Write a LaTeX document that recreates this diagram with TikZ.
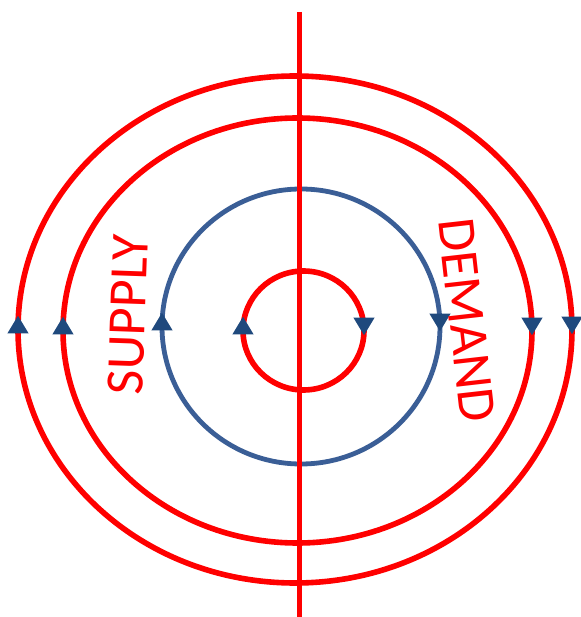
\documentclass[tikz,border=0pt]{standalone}
\usepackage{fontspec}
\setmainfont{Carlito}
\definecolor{LoopRed}{HTML}{FF0000}
\definecolor{LoopBlue}{HTML}{3A5E96}
\definecolor{TipNavy}{HTML}{1F497D}
\usetikzlibrary{arrows.meta, decorations.markings}

\begin{document}
\begin{tikzpicture}[
      x=0.5pt, y=0.5pt,
      flowtip/.style={decoration={markings,
        mark=at position 0.25 with {\arrow[xshift=2.5pt]{Triangle[width=10pt, length=9pt, color=TipNavy]}},
        mark=at position 0.75 with {\arrow[xshift=7pt]{Triangle[width=10pt, length=9pt, color=TipNavy]}}},
        postaction={decorate}},
      redloop/.style={draw=LoopRed, line width=2.8pt, flowtip},
      blueloop/.style={draw=LoopBlue, line width=2.4pt, flowtip},
      axisline/.style={draw=LoopRed, line width=2.8pt},
      tag/.style={text=LoopRed, font=\fontsize{27}{32}\selectfont, inner sep=0pt}
    ]
      \useasboundingbox (0,0) rectangle (580,617);
      % centres of the loops
      \coordinate (outer) at (295,287.5);
      \coordinate (second) at (297.5,286.5);
      \coordinate (mid) at (301,290.5);
      \coordinate (inner) at (303.5,286.5);
      % loops, drawn clockwise
      \draw[redloop] (outer) ++(0,253.5) arc[start angle=90, end angle=-270, x radius=277, y radius=253.5];
      \draw[redloop] (second) ++(0,212.5) arc[start angle=90, end angle=-270, x radius=234.5, y radius=212.5];
      \draw[blueloop] (mid) ++(0,137.5) arc[start angle=90, end angle=-270, x radius=139, y radius=137.5];
      \draw[redloop] (inner) ++(0,59.5) arc[start angle=90, end angle=-270, x radius=60.5, y radius=59.5];
      % dividing line
      \coordinate (top) at (299.5,605);
      \coordinate (bottom) at (299.5,0);
      \draw[axisline] (top) -- (bottom);
      \node[tag, rotate=88] (supply) at (128,302) {SUPPLY};
      \node[tag, rotate=-83.5] (demand) at (467,297) {DEMAND};
    \end{tikzpicture}
\end{document}
